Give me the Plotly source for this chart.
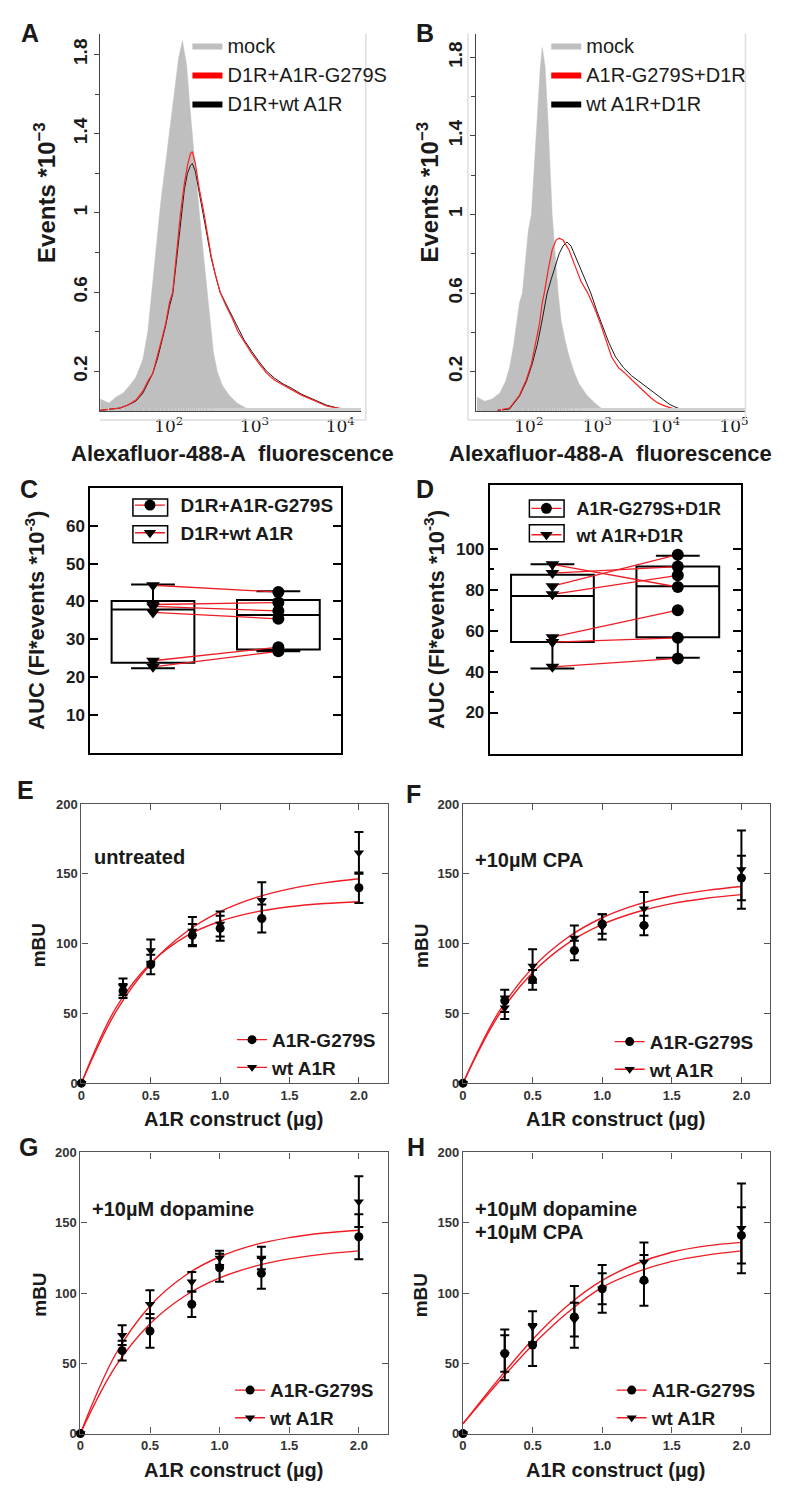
import plotly.graph_objects as go

# The page body has an 8px margin, so the figure is drawn 8px in from the top-left corner.
OFF = 8
FW, FH = 800 - OFF, 1500 - OFF
def px(x): return (x - OFF) / FW
def py(y): return 1 - (y - OFF) / FH

FONT = "Liberation Sans, Arial, sans-serif"
RED = "#ee1c24"
NB = "\u00a0\u00a0"

# ---------------- data ----------------
# Panel A : fluorescence vs events (*10^-3)
a_mock_fl = [15.8, 20.1, 24.3, 29.2, 35.2, 41.3, 49.8, 56.9, 60.0, 65.0, 72.3, 80.4, 91.8, 102, 117, 130, 144, 161, 179, 204, 227, 252, 281, 304, 330, 367, 419, 505, 624, 752, 883]
a_mock_ev = [0.06, 0.04, 0.07, 0.09, 0.13, 0.17, 0.26, 0.40, 0.50, 0.65, 0.85, 1.05, 1.25, 1.42, 1.62, 1.78, 1.87, 1.75, 1.50, 1.20, 1.00, 0.80, 0.60, 0.45, 0.30, 0.20, 0.13, 0.08, 0.04, 0.02, 0.005]
a_fl = [15.8, 27.0, 33.4, 41.3, 49.8, 56.9, 65.0, 74.3, 84.8, 91.8, 102, 111, 120, 130, 137, 152, 165, 179, 188, 204, 227, 252, 281, 313, 348, 397, 466, 547, 641, 752, 931, 1122, 1389, 1718, 2183, 2700, 3524, 4853, 6860, 10210, 14420, 16060]
a_mut_ev = [0.003, 0.015, 0.03, 0.055, 0.10, 0.15, 0.19, 0.28, 0.38, 0.44, 0.55, 0.60, 0.75, 0.90, 1.00, 1.15, 1.24, 1.30, 1.31, 1.25, 1.12, 1.02, 0.90, 0.78, 0.69, 0.60, 0.53, 0.47, 0.40, 0.35, 0.29, 0.24, 0.19, 0.155, 0.13, 0.11, 0.08, 0.055, 0.025, 0.012, 0.01, 0.0]
a_wt_ev = [0.003, 0.015, 0.03, 0.05, 0.09, 0.14, 0.19, 0.27, 0.37, 0.43, 0.53, 0.59, 0.72, 0.86, 0.97, 1.12, 1.20, 1.24, 1.25, 1.21, 1.10, 0.99, 0.88, 0.77, 0.69, 0.60, 0.54, 0.48, 0.42, 0.36, 0.30, 0.25, 0.20, 0.165, 0.135, 0.115, 0.085, 0.06, 0.03, 0.01, 0.005, 0.0]

# Panel B
b_mock_fl = [17.4, 22.6, 28.6, 37.4, 45.6, 52.1, 59.6, 65.9, 72.8, 80.5, 89.0, 98.4, 109, 120, 133, 147, 157, 173, 192, 219, 242, 268, 296, 338, 386, 456, 539, 704, 920, 1162, 1285]
b_mock_ev = [0.07, 0.05, 0.06, 0.09, 0.15, 0.22, 0.33, 0.44, 0.55, 0.60, 0.78, 0.92, 1.00, 1.25, 1.50, 1.75, 1.85, 1.75, 1.45, 1.00, 0.80, 0.60, 0.46, 0.36, 0.28, 0.20, 0.14, 0.08, 0.04, 0.01, 0.0]
b_mut_fl = [34.9, 52.1, 72.8, 92.0, 109, 124, 142, 157, 168, 192, 219, 250, 277, 316, 386, 472, 577, 728, 920, 1125, 1374, 1622, 2051, 2590, 3268, 3991, 5047, 6166, 7786, 9840, 12850, 16790, 31620, 34910]
b_mut_ev = [0.003, 0.015, 0.08, 0.16, 0.24, 0.34, 0.44, 0.55, 0.60, 0.72, 0.82, 0.87, 0.88, 0.87, 0.82, 0.74, 0.66, 0.60, 0.52, 0.44, 0.35, 0.275, 0.22, 0.19, 0.155, 0.125, 0.09, 0.065, 0.04, 0.025, 0.012, 0.008, 0.005, 0.0]
b_wt_fl = [34.9, 52.1, 72.8, 92.0, 112, 133, 152, 168, 185, 212, 242, 277, 316, 361, 413, 505, 637, 805, 984, 1162, 1469, 1854, 2421, 3162, 4130, 5400, 7047, 8900, 11250, 13740, 17950, 21200]
b_wt_ev = [0.003, 0.01, 0.075, 0.15, 0.24, 0.34, 0.44, 0.52, 0.60, 0.67, 0.74, 0.80, 0.84, 0.86, 0.84, 0.77, 0.68, 0.60, 0.51, 0.44, 0.35, 0.275, 0.22, 0.18, 0.15, 0.12, 0.09, 0.06, 0.035, 0.02, 0.005, 0.0]

# Panel C : AUC, paired (wt A1R -> A1R-G279S)
c_wt = [44.3, 39.2, 38.7, 37.1, 24.3, 22.7]
c_mut = [42.5, 39.7, 37.5, 35.4, 27.9, 26.8]
c_box_pos = [1, 2]
c_box_low = [22.3, 26.8]
c_box_q1 = [23.8, 27.3]
c_box_med = [37.9, 36.4]
c_box_q3 = [40.1, 40.4]
c_box_up = [44.5, 42.7]

# Panel D
d_wt = [92.4, 88.1, 81.7, 77.7, 56.8, 54.4, 42.3]
d_mut = [81.3, 91.3, 97.1, 87.0, 70.0, 56.5, 46.4]
d_box_pos = [1, 2]
d_box_low = [41.5, 46.7]
d_box_q1 = [54.4, 56.8]
d_box_med = [76.9, 81.7]
d_box_q3 = [87.3, 91.3]
d_box_up = [92.4, 96.5]

# Panels E-H : dose response
dose = [0, 0.3, 0.5, 0.8, 1.0, 1.3, 2.0]
fit_x = [0, 0.25, 0.5, 0.75, 1.0, 1.25, 1.5, 1.75, 2.0]

e_mut = [0, 66, 85, 106, 111, 118, 140]
e_mut_err = [0, 5, 7, 8, 9, 10, 11]
e_wt = [0, 69, 95, 109, 114, 131, 165]
e_wt_err = [0, 6, 8, 10, 9, 13, 15]
e_wt_fit = [0, 51.4, 85.4, 107.9, 122.8, 132.7, 139.2, 143.5, 146.4]
e_mut_fit = [0, 54.2, 86.1, 105.0, 116.0, 122.5, 126.4, 128.7, 130.0]

f_mut = [0, 59, 74, 95, 114, 113, 147]
f_mut_err = [0, 8, 7, 7, 7, 7, 16]
f_wt = [0, 54, 84, 104, 112, 125, 153]
f_wt_err = [0, 8, 12, 9, 9, 12, 28]
f_wt_fit = [0, 49.8, 82.7, 104.2, 118.5, 127.9, 134.1, 138.1, 140.9]
f_mut_fit = [0, 47.7, 79.2, 100.0, 113.7, 122.6, 128.6, 132.5, 135.1]

g_mut = [0, 59, 73, 92, 118, 114, 140]
g_mut_err = [0, 7, 12, 9, 10, 11, 16]
g_wt = [0, 70, 92, 108, 125, 125, 165]
g_wt_err = [0, 7, 10, 7, 5, 8, 18]
g_wt_fit = [0, 55.9, 90.8, 112.3, 125.8, 134.3, 139.4, 142.7, 144.7]
g_mut_fit = [0, 47.4, 78.1, 97.9, 110.7, 119.0, 124.3, 127.7, 130.0]

h_mut = [0, 57, 63, 83, 103, 109, 141]
h_mut_err = [0, 13, 15, 22, 17, 18, 20]
h_wt = [0, 56, 76, 81, 103, 122, 146]
h_wt_err = [0, 18, 11, 12, 11, 14, 32]
h_wt_fit = [7, 38, 67, 91, 109, 121, 129, 133.5, 136]
h_mut_fit = [7, 36, 63, 86, 104, 115, 122.5, 127, 130]

dose_ticks = [0, 0.5, 1.0, 1.5, 2.0]
dose_ticktext = ["0", "0.5", "1.0", "1.5", "2.0"]
mbu_ticks = [0, 50, 100, 150, 200]
ev_ticks = [0.2, 0.6, 1.0, 1.4, 1.8]
ev_ticktext = ["0.2", "0.6", "1", "1.4", "1.8"]

# ---------------- figure ----------------
fig = go.Figure()

# ---- A & B histograms ----
def hist_panel(ax, mock_fl, mock_ev, mut_fl, mut_ev, wt_fl, wt_ev, names, leg):
    fig.add_trace(go.Scatter(x=mock_fl, y=mock_ev, mode="lines", fill="tozeroy",
                             fillcolor="#bfbfbf", line=dict(color="#bfbfbf", width=0.5),
                             xaxis="x" + ax, yaxis="y" + ax, showlegend=False, hoverinfo="skip"))
    fig.add_trace(go.Scatter(x=wt_fl, y=wt_ev, mode="lines", line=dict(color="#1a1a1a", width=1),
                             xaxis="x" + ax, yaxis="y" + ax, showlegend=False))
    fig.add_trace(go.Scatter(x=mut_fl, y=mut_ev, mode="lines", line=dict(color="#ff2020", width=1.2),
                             xaxis="x" + ax, yaxis="y" + ax, showlegend=False))
    for nm, col in zip(names, ["#bfbfbf", "#ff0000", "#000000"]):
        fig.add_trace(go.Scatter(x=[None], y=[None], mode="lines", fill="toself", fillcolor=col,
                                 line=dict(color=col, width=0), name=nm, legend=leg,
                                 xaxis="x" + ax, yaxis="y" + ax))

hist_panel("", a_mock_fl, a_mock_ev, a_fl, a_mut_ev, a_fl[:41], a_wt_ev[:41],
           ["mock", "D1R+A1R-G279S", "D1R+wt A1R"], "legend")
hist_panel("2", b_mock_fl, b_mock_ev, b_mut_fl, b_mut_ev, b_wt_fl, b_wt_ev,
           ["mock", "A1R-G279S+D1R", "wt A1R+D1R"], "legend2")

# ---- C & D paired box plots ----
def box_panel(ax, pos, low, q1, med, q3, up, wt, mut, names, leg):
    fig.add_trace(go.Box(x=pos, lowerfence=low, q1=q1, median=med, q3=q3, upperfence=up,
                         width=0.66, whiskerwidth=0.53, fillcolor="white",
                         line=dict(color="black", width=2), boxpoints=False,
                         xaxis="x" + ax, yaxis="y" + ax, showlegend=False, hoverinfo="skip"))
    lx, ly = [], []
    for a, b in zip(wt, mut):
        lx += [1, 2, None]
        ly += [a, b, None]
    fig.add_trace(go.Scatter(x=lx, y=ly, mode="lines", line=dict(color=RED, width=1.3),
                             xaxis="x" + ax, yaxis="y" + ax, showlegend=False))
    fig.add_trace(go.Scatter(x=[1] * len(wt), y=wt, mode="markers",
                             marker=dict(symbol="triangle-down", size=12, color="black"),
                             xaxis="x" + ax, yaxis="y" + ax, showlegend=False))
    fig.add_trace(go.Scatter(x=[2] * len(mut), y=mut, mode="markers",
                             marker=dict(symbol="circle", size=12, color="black"),
                             xaxis="x" + ax, yaxis="y" + ax, showlegend=False))
    for nm, sym in zip(names, ["circle", "triangle-down"]):
        fig.add_trace(go.Scatter(x=[None], y=[None], mode="lines+markers", name=NB + nm, legend=leg,
                                 line=dict(color=RED, width=1.3),
                                 marker=dict(symbol=sym, size=11, color="black"),
                                 xaxis="x" + ax, yaxis="y" + ax))

box_panel("3", c_box_pos, c_box_low, c_box_q1, c_box_med, c_box_q3, c_box_up, c_wt, c_mut,
          ["D1R+A1R-G279S", "D1R+wt A1R"], "legend3")
box_panel("4", d_box_pos, d_box_low, d_box_q1, d_box_med, d_box_q3, d_box_up, d_wt, d_mut,
          ["A1R-G279S+D1R", "wt A1R+D1R"], "legend4")

# ---- E-H dose response ----
def dose_panel(ax, mut, mut_err, wt, wt_err, wt_fit, mut_fit, leg):
    for fit in (wt_fit, mut_fit):
        fig.add_trace(go.Scatter(x=fit_x, y=fit, mode="lines", line=dict(color=RED, width=1.4, shape="spline"),
                                 xaxis="x" + ax, yaxis="y" + ax, showlegend=False))
    for vals, err, sym in ((wt, wt_err, "triangle-down"), (mut, mut_err, "circle")):
        fig.add_trace(go.Scatter(x=dose, y=vals, mode="markers",
                                 error_y=dict(type="data", array=err, color="black", thickness=2, width=4.5),
                                 marker=dict(symbol=sym, size=9, color="black"), cliponaxis=False,
                                 xaxis="x" + ax, yaxis="y" + ax, showlegend=False))
    for nm, sym in (("A1R-G279S", "circle"), ("wt A1R", "triangle-down")):
        fig.add_trace(go.Scatter(x=[None], y=[None], mode="lines+markers", name=nm, legend=leg,
                                 line=dict(color=RED, width=1.4),
                                 marker=dict(symbol=sym, size=9, color="black"),
                                 xaxis="x" + ax, yaxis="y" + ax))

dose_panel("5", e_mut, e_mut_err, e_wt, e_wt_err, e_wt_fit, e_mut_fit, "legend5")
dose_panel("6", f_mut, f_mut_err, f_wt, f_wt_err, f_wt_fit, f_mut_fit, "legend6")
dose_panel("7", g_mut, g_mut_err, g_wt, g_wt_err, g_wt_fit, g_mut_fit, "legend7")
dose_panel("8", h_mut, h_mut_err, h_wt, h_wt_err, h_wt_fit, h_mut_fit, "legend8")

# ---------------- layout ----------------
lay = dict(width=FW, height=FH, margin=dict(l=0, r=0, t=0, b=0), autosize=False,
           paper_bgcolor="white", plot_bgcolor="white",
           font=dict(family=FONT, color="#1a1a1a"), showlegend=True)

def dom(a, b):
    return [px(a), px(b)]

def ydom(top, bot):
    return [py(bot), py(top)]

# A, B axes
for key, xd, yd, xr, yr in (("", (97, 360), (27, 408), [1.2, 4.24], [0, 1.905]),
                            ("2", (476, 748), (27, 408), [1.225, 5.167], [0, 1.92])):
    tv = [100, 1000, 10000] if key == "" else [100, 1000, 10000, 100000]
    tt = ["10<sup>2</sup>", "10<sup>3</sup>", "10<sup>4</sup>", "10<sup>5</sup>"][:len(tv)]
    lay["xaxis" + key] = dict(domain=dom(*xd), type="log", range=xr, anchor="y" + key,
                              showline=True, linecolor="#444", linewidth=1.2,
                              tickvals=tv, ticktext=tt, ticks="", showgrid=False, zeroline=False,
                              tickfont=dict(family="DejaVu Serif, Liberation Serif, serif", size=17, color="#1a1a1a"),
                              minor=dict(ticks="inside", ticklen=3, tickcolor="#cfcfcf", showgrid=False))
    lay["yaxis" + key] = dict(domain=ydom(*yd), range=yr, anchor="x" + key,
                              showline=True, linecolor="#444", linewidth=1.2,
                              tickvals=ev_ticks, ticktext=ev_ticktext, ticks="outside", ticklen=5,
                              tickcolor="#444", tickangle=-90, showgrid=False, zeroline=False,
                              tickfont=dict(size=19, weight="bold", color="#1a1a1a"),
                              minor=dict(tickvals=[0.4, 0.8, 1.2, 1.6], ticks="outside", ticklen=4, tickcolor="#444"))

# C, D axes
for key, xd, yd, yr, tv, minor in (("3", (87, 340), (486, 753), [0, 70], [10, 20, 30, 40, 50, 60], None),
                                   ("4", (490, 743), (483, 754), [0, 131], [20, 40, 60, 80, 100], [30, 50, 70, 90])):
    lay["xaxis" + key] = dict(domain=dom(*xd), range=[0.5, 2.5], anchor="y" + key,
                              showline=True, mirror=True, linecolor="black", linewidth=2,
                              showticklabels=False, ticks="", showgrid=False, zeroline=False)
    ya = dict(domain=ydom(*yd), range=yr, anchor="x" + key,
              showline=True, mirror="ticks", linecolor="black", linewidth=2,
              tickvals=tv, ticks="inside", ticklen=8, tickwidth=2, tickcolor="black",
              showgrid=False, zeroline=False,
              tickfont=dict(size=17, weight="bold", color="#1a1a1a"))
    if minor:
        ya["minor"] = dict(tickvals=minor, ticks="inside", ticklen=4, tickwidth=2, tickcolor="black")
    lay["yaxis" + key] = ya

# E-H axes
for key, xd, yd in (("5", (78, 387), (805, 1087)), ("6", (463, 773), (805, 1087)),
                    ("7", (77, 387), (1157, 1441)), ("8", (463, 773), (1157, 1441))):
    lay["xaxis" + key] = dict(domain=dom(*xd), range=[0, 2.207], anchor="y" + key,
                              showline=True, mirror="ticks", linecolor="#555", linewidth=1.3,
                              tickvals=dose_ticks, ticktext=dose_ticktext, ticks="inside", ticklen=6,
                              tickcolor="#555", showgrid=False, zeroline=False,
                              tickfont=dict(size=13, weight="bold", color="#333"))
    lay["yaxis" + key] = dict(domain=ydom(*yd), range=[0, 200], anchor="x" + key,
                              showline=True, mirror="ticks", linecolor="#555", linewidth=1.3,
                              tickvals=mbu_ticks, ticks="inside", ticklen=6,
                              tickcolor="#555", showgrid=False, zeroline=False,
                              tickfont=dict(size=13, weight="bold", color="#333"))

# legends (x = left edge of item, y = top)
def leg(x, y, size, bold=False):
    return dict(x=px(x), y=py(y), xanchor="left", yanchor="top", bgcolor="rgba(0,0,0,0)",
                font=dict(size=size, family=FONT, color="#1a1a1a", weight="bold" if bold else "normal"),
                traceorder="normal", itemwidth=30)

lay["legend"] = leg(185, 19, 20)
lay["legend2"] = leg(547, 19, 20)
lay["legend3"] = leg(127, 484, 19, True)
lay["legend4"] = leg(527, 488, 18, True)
lay["legend5"] = leg(230, 1024, 19, True)
lay["legend6"] = leg(611, 1026, 19, True)
lay["legend7"] = leg(228, 1378, 19, True)
lay["legend8"] = leg(613, 1378, 19, True)

fig.update_layout(**lay)

# annotations
def ann(text, x, y, size, angle=0, xanchor="center", bold=True, family=FONT):
    fig.add_annotation(text=text, x=px(x), y=py(y), xref="paper", yref="paper", showarrow=False,
                       xanchor=xanchor, yanchor="middle", textangle=angle,
                       font=dict(size=size, family=family, color="#1a1a1a", weight="bold" if bold else "normal"))

for lbl, x, y in (("A", 26, 26), ("B", 425, 26), ("C", 25, 487), ("D", 425, 487),
                  ("E", 22, 791), ("F", 413, 795), ("G", 25, 1152), ("H", 416, 1152)):
    ann(lbl, x, y, 25)

ann("Events *10<sup>−3</sup>", 41, 187, 24, -90)
ann("Events *10<sup>−3</sup>", 428, 187, 24, -90)
ann("Alexafluor-488-A\u00a0 fluorescence", 230, 451, 22)
ann("Alexafluor-488-A\u00a0 fluorescence", 612, 451, 22)
ann("AUC (FI*events *10<sup>-3</sup>)", 31, 619, 22, -90)
ann("AUC (FI*events *10<sup>-3</sup>)", 434, 619, 22, -90)
for x, y in ((35, 948), (421, 948), (35, 1301), (420, 1301)):
    ann("mBU", x, y, 19, -90)
for x, y in ((231, 1123), (617, 1123), (231, 1478), (617, 1478)):
    ann("A1R construct (µg)", x, y, 20)
ann("untreated", 89, 859, 20, xanchor="left")
ann("+10µM CPA", 473, 862, 20, xanchor="left")
ann("+10µM dopamine", 87, 1214, 20, xanchor="left")
ann("+10µM dopamine", 473, 1214, 20, xanchor="left")
ann("+10µM CPA", 473, 1237, 20, xanchor="left")

# light frames around flow panels
for x0, x1 in ((97, 365), (468, 748)):
    fig.add_shape(type="line", xref="paper", yref="paper", x0=px(x0), x1=px(x1), y0=py(417), y1=py(417),
                  line=dict(color="#dddddd", width=1.5))
    fig.add_shape(type="line", xref="paper", yref="paper", x0=px(x1), x1=px(x1), y0=py(27), y1=py(417),
                  line=dict(color="#dddddd", width=1.5))
fig.add_shape(type="line", xref="paper", yref="paper", x0=px(468), x1=px(468), y0=py(27), y1=py(417),
              line=dict(color="#dddddd", width=1.5))

# frames around legend symbols in C and D
for x0, ys in ((130, (497, 524)), (530, (498, 523))):
    for y0 in ys:
        fig.add_shape(type="rect", xref="paper", yref="paper", x0=px(x0), x1=px(x0 + 35),
                      y0=py(y0), y1=py(y0 + 17), line=dict(color="black", width=1.5))

fig.write_html("out.html")
